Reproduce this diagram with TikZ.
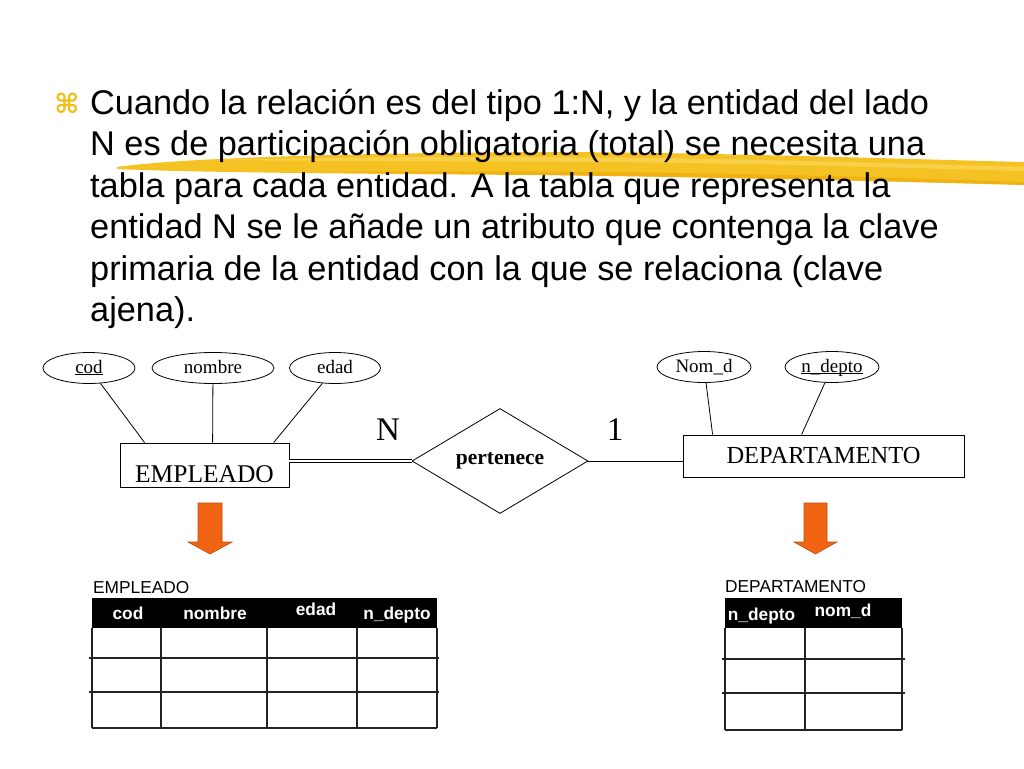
\documentclass[tikz,border=0pt]{standalone}
\usepackage{fontspec}
\setmainfont{Liberation Serif}
\newfontfamily\arialf{Liberation Sans}
\newfontfamily\dejavu{DejaVu Sans}
\usetikzlibrary{shapes.geometric,calc}
\definecolor{hlyellow}{RGB}{245,188,12}
\definecolor{hllight}{RGB}{250,215,90}
\definecolor{hldark}{RGB}{235,168,8}
\definecolor{bulletyellow}{RGB}{240,190,20}
\definecolor{arroworange}{RGB}{240,100,20}
\definecolor{arrowedge}{RGB}{190,75,15}
\definecolor{gridgray}{RGB}{35,35,35}
\newcommand\keyul[1]{\underline{\smash{#1}}}
\begin{document}
\begin{tikzpicture}[x=1pt,y=-1pt,
  bodytext/.style={anchor=base west,inner sep=0pt,font=\arialf\fontsize{34.3}{40}\selectfont},
  attr/.style={ellipse,draw,line width=0.8pt,minimum width=92pt,minimum height=31pt,inner sep=0pt,text height=14pt,text depth=4pt,font=\fontsize{19}{22}\selectfont},
  entity/.style={rectangle,draw,line width=0.8pt,inner sep=0pt},
  relship/.style={diamond,draw,line width=0.8pt,inner sep=0pt,minimum width=176pt,minimum height=86pt,font=\bfseries\fontsize{21.5}{24}\selectfont},
  conn/.style={line width=0.8pt},
  card/.style={inner sep=0pt,anchor=base,font=\fontsize{33}{36}\selectfont},
  bigarrow/.style={fill=arroworange,draw=arrowedge,line width=0.6pt},
  tabtitle/.style={anchor=base west,inner sep=0pt,font=\arialf\fontsize{17.3}{20}\selectfont},
  tabhead/.style={anchor=base,inner sep=0pt,text=white,font=\arialf\bfseries\fontsize{17.3}{20}\selectfont},
  gridline/.style={draw=gridgray,line width=1.3pt}
]
\useasboundingbox[fill=white] (0,0) rectangle (1024,768);

% highlighter stroke
\fill[hlyellow,opacity=0.9] (117,167) .. controls (180,158) and (350,153) .. (540,152)
  .. controls (700,152) and (900,159) .. (1024,162) -- (1024,185)
  .. controls (900,181) and (700,177) .. (540,175)
  .. controls (350,174) and (180,172) .. (117,169) -- cycle;
\fill[hllight,opacity=0.7] (200,160) .. controls (350,157) and (500,156) .. (650,158)
  .. controls (800,160) and (950,165) .. (1024,167) -- (1024,171)
  .. controls (900,168) and (750,163) .. (600,162)
  .. controls (450,161) and (300,161) .. (200,160) -- cycle;
\fill[hldark,opacity=0.6] (300,172) .. controls (500,170) and (700,172) .. (900,178)
  .. controls (950,180) and (1000,181) .. (1024,182) -- (1024,185)
  .. controls (900,182) and (700,176) .. (300,172) -- cycle;

% bullet and text
\node[inner sep=0pt,font=\dejavu\bfseries\fontsize{27}{27}\selectfont,text=bulletyellow] (bul) at (67,103) {⌘};
\node[bodytext] (l1) at (90,114) {Cuando la relación es del tipo 1:N, y la entidad del lado};
\node[bodytext] (l2) at (90,155.5) {N es de participación obligatoria (total) se necesita una};
\node[bodytext] (l3) at (90,197) {tabla para cada entidad. A la tabla que representa la};
\node[bodytext] (l4) at (90,238.5) {entidad N se le añade un atributo que contenga la clave};
\node[bodytext] (l5) at (90,280) {primaria de la entidad con la que se relaciona (clave};
\node[bodytext] (l6) at (90,321.5) {ajena).};

% ER diagram
\node[attr] (cod) at (89,368) {\keyul{cod}};
\node[attr,minimum width=122pt] (nom) at (213,368) {nombre};
\node[attr,minimum width=91pt] (eda) at (335,368) {edad};
\node[attr,minimum width=94pt] (nomd) at (704,367) {Nom\_d};
\node[attr,minimum width=94pt] (ndep) at (832,367) {\keyul{n\_depto}};

\node[entity,minimum width=169pt,minimum height=44pt] (emp) at (204.5,465) {};
\node[inner sep=0pt,anchor=base,font=\fontsize{25.5}{28}\selectfont] (emptxt) at (204.5,482) {EMPLEADO};
\node[entity,minimum width=281pt,minimum height=42pt,font=\fontsize{24.5}{27}\selectfont] (dep) at (823.5,456) {DEPARTAMENTO};
\node[relship] (rel) at (500,461) {pertenece};

\coordinate (e1) at ($(emp.north west)+(25,0)$);
\coordinate (e2) at ($(emp.north west)+(93,0)$);
\coordinate (e3) at ($(emp.north west)+(154,0)$);
\coordinate (d1) at ($(dep.north west)+(30,0)$);
\coordinate (d2) at ($(dep.north west)+(119,0)$);

\draw[conn] (cod) -- (e1);
\draw[conn] (nom) -- (e2);
\draw[conn] (eda) -- (e3);
\draw[conn] (nomd) -- (d1);
\draw[conn] (ndep) -- (d2);

\draw[line width=0.7pt,double,double distance=2.6pt] (emp.east |- rel.west) -- (rel.west);
\draw[conn] (rel.east) -- (rel.east -| dep.west);

\node[card] (cn) at (388,440) {N};
\node[card] (c1) at (615,440) {1};

% orange arrows
\draw[bigarrow] (198,503) -- (222,503) -- (222,542) -- (232,542) -- (210,554) -- (188,542) -- (198,542) -- cycle;
\draw[bigarrow] (804,503) -- (827,503) -- (827,542) -- (837,542) -- (815.5,554) -- (794,542) -- (804,542) -- cycle;

% EMPLEADO table
\node[tabtitle] (t1) at (93,593) {EMPLEADO};
\fill[black] (92,598) rectangle (437,628);
\node[tabhead] (h11) at (128,619) {cod};
\node[tabhead] (h12) at (215,619) {nombre};
\node[tabhead] (h13) at (316,615.5) {edad};
\node[tabhead] (h14) at (397,619) {n\_depto};
\draw[gridline] (89,658) -- (439,658);
\draw[gridline] (89,692) -- (439,692);
\draw[gridline] (92,728) -- (437,728);
\foreach \x in {92,161,267,357,437} \draw[gridline] (\x,628) -- (\x,728);

% DEPARTAMENTO table
\node[tabtitle] (t2) at (725,592) {DEPARTAMENTO};
\fill[black] (725,598) rectangle (902,628);
\node[tabhead] (h21) at (761.5,620) {n\_depto};
\node[tabhead] (h22) at (843,616) {nom\_d};
\draw[gridline] (722,659) -- (905,659);
\draw[gridline] (722,693) -- (905,693);
\draw[gridline] (725,730) -- (902,730);
\foreach \x in {725,805,902} \draw[gridline] (\x,628) -- (\x,730);
\end{tikzpicture}
\end{document}
